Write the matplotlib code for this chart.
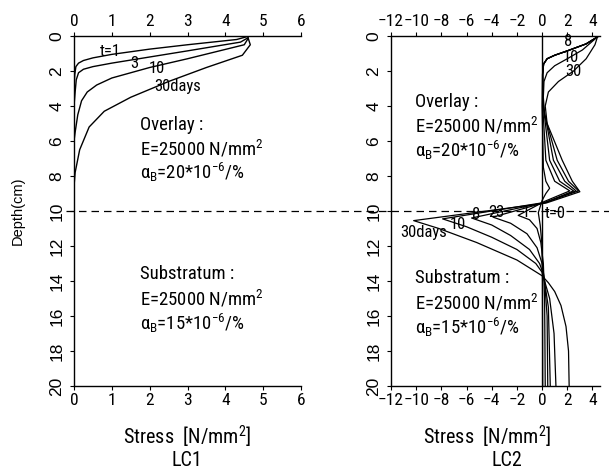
import numpy as np
import matplotlib
matplotlib.use('Agg')
import matplotlib.pyplot as plt
from matplotlib.lines import Line2D

plt.rcParams['font.family'] = ['Roboto Condensed', 'DejaVu Sans']
plt.rcParams['mathtext.fontset'] = 'custom'
plt.rcParams['mathtext.rm'] = 'Roboto Condensed'
plt.rcParams['mathtext.it'] = 'Roboto Condensed'
plt.rcParams['mathtext.bf'] = 'Roboto Condensed'

# LC1: stress (N/mm2) vs depth (cm)
lc1_labels = ['t=1', '3', '10', '30days']
lc1_stress = [
    [4.55, 4.3, 3.0, 2.0, 1.0, 0.5, 0.25, 0.12, 0.05, 0.02, 0.0],
    [4.6, 4.4, 3.0, 2.0, 1.0, 0.5, 0.25, 0.12, 0.06, 0.03, 0.0],
    [4.6, 4.5, 3.0, 2.0, 1.0, 0.6, 0.35, 0.2, 0.1, 0.03, 0.0],
    [4.6, 4.66, 4.45, 3.5, 2.5, 1.5, 0.8, 0.4, 0.15, 0.03, 0.0],
]
lc1_depth = [
    [0.05, 0.2, 0.5, 0.75, 1.05, 1.25, 1.4, 1.55, 1.75, 2.2, 3.0],
    [0.1, 0.35, 0.85, 1.2, 1.55, 1.75, 1.9, 2.1, 2.5, 3.2, 4.0],
    [0.15, 0.5, 1.3, 1.8, 2.4, 2.8, 3.2, 3.7, 4.5, 5.5, 6.0],
    [0.1, 0.5, 1.1, 1.8, 2.6, 3.5, 4.3, 5.2, 6.5, 7.8, 8.6],
]
lc1_label_pos = [(0.95, 0.9), (1.6, 1.55), (2.2, 1.85), (2.75, 2.9)]

# LC2
lc2_labels = ['t=0', '1', '23', '8', '10', '30days']
lc2_stress = [
    [4.4, 3.5, 2.0, 1.0, 0.4, 0.12, 0.03, 0.0, 0.1, 0.3, 0.6, 0.3, 0.0, -0.3, -0.15, 0.0, 0.03, 0.05],
    [4.4, 3.5, 2.0, 1.0, 0.4, 0.12, 0.05, 0.05, 0.3, 1.0, 2.2, 0.2, -1.9, -1.0, -0.4, -0.1, 0.1, 0.2, 0.25],
    [4.4, 3.5, 2.0, 1.0, 0.4, 0.12, 0.05, 0.1, 0.6, 1.4, 2.5, 0.3, -3.9, -2.5, -1.2, -0.4, 0.0, 0.2, 0.4, 0.45],
    [4.4, 3.5, 2.0, 1.0, 0.4, 0.12, 0.05, 0.1, 0.9, 1.8, 2.7, 0.3, -5.6, -4.0, -2.5, -1.0, -0.2, 0.1, 0.5, 0.65],
    [4.4, 3.2, 2.0, 1.0, 0.4, 0.15, 0.1, 0.2, 1.2, 2.1, 2.9, 0.3, -7.9, -6.0, -4.0, -2.0, -0.5, 0.0, 0.6, 0.95, 1.1],
    [4.4, 4.2, 3.5, 2.5, 1.3, 0.5, 0.25, 0.4, 1.6, 2.4, 3.0, 0.3, -10.2, -8.2, -5.2, -2.0, 0.0,
     0.5, 1.0, 1.5, 1.9, 2.1, 2.15],
]
lc2_depth = [
    [0.05, 0.45, 0.85, 1.1, 1.3, 1.6, 2.2, 4.0, 7.5, 8.3, 8.7, 9.0, 9.4, 10.1, 10.8, 12.0, 14.0, 20.0],
    [0.05, 0.45, 0.85, 1.1, 1.3, 1.6, 2.2, 4.0, 7.1, 8.3, 8.85, 9.45, 10.25, 10.5, 11.0, 11.8, 13.0, 15.0, 20.0],
    [0.05, 0.45, 0.85, 1.1, 1.3, 1.6, 2.2, 4.0, 7.1, 8.3, 8.85, 9.5, 10.35, 10.7, 11.3, 12.1, 13.0, 14.0, 16.0, 20.0],
    [0.05, 0.45, 0.85, 1.1, 1.3, 1.6, 2.2, 4.0, 7.1, 8.3, 8.85, 9.5, 10.4, 10.8, 11.4, 12.2, 13.0, 13.6, 15.5, 20.0],
    [0.05, 0.8, 1.3, 1.7, 2.1, 2.6, 3.5, 4.5, 7.1, 8.3, 8.85, 9.5, 10.45, 10.9, 11.5, 12.2, 13.0, 13.5, 15.0, 17.0, 20.0],
    [0.05, 0.5, 1.3, 2.0, 2.6, 3.2, 4.0, 5.0, 7.1, 8.3, 8.9, 9.55, 10.55, 11.0, 11.8, 12.8, 13.7,
     14.1, 14.6, 15.4, 16.6, 18.0, 20.0],
]
lc2_label_pos = [(0.25, 10.15), (-1.3, 10.1), (-3.6, 10.1), (-5.2, 10.2), (-6.7, 10.75), (-9.4, 11.25)]
lc2_label_ha = ['left', 'center', 'center', 'center', 'center', 'center']
lc2_top_labels = ['8', '10', '30']
lc2_top_pos = [(2.1, 0.3), (2.3, 1.25), (2.5, 2.05)]

props_over = ['Overlay :', 'E=25000 N/mm$^2$', r'$\alpha_B$=20*10$^{-6}$/%']
props_sub = ['Substratum :', 'E=25000 N/mm$^2$', r'$\alpha_B$=15*10$^{-6}$/%']

lc1_xticks = [0, 1, 2, 3, 4, 5, 6]
lc2_xticks = [-12, -10, -8, -6, -4, -2, 0, 2, 4]
depth_ticks = [0, 2, 4, 6, 8, 10, 12, 14, 16, 18, 20]

fig = plt.figure(figsize=(6.09, 4.69), dpi=100)
W, H = 609, 469

def px_axes(x0, x1, y0, y1):
    return fig.add_axes([x0 / W, 1 - y1 / H, (x1 - x0) / W, (y1 - y0) / H])

def style(ax, xticks, xlim):
    ax.set_xlim(*xlim)
    ax.set_ylim(20, 0)
    ax.set_xticks(xticks)
    ax.set_xticklabels([str(t).replace('-', '\u2212') for t in xticks])
    ax.set_yticks(depth_ticks)
    ax.set_yticklabels([str(t) for t in depth_ticks], rotation=90, va='center',
                       family=['Liberation Sans', 'DejaVu Sans'], fontsize=10.5)
    ax.tick_params(top=True, labeltop=True, bottom=True, labelbottom=True,
                   direction='out', length=3, width=0.8, labelsize=12.5, pad=2)
    ax.tick_params(axis='y', pad=4)
    ax.spines['right'].set_visible(False)
    for s in ['top', 'bottom', 'left']:
        ax.spines[s].set_linewidth(1.0)

ax1 = px_axes(74, 301, 36, 386)
style(ax1, lc1_xticks, (0, 6))
for xs, ds in zip(lc1_stress, lc1_depth):
    ax1.plot(xs, ds, color='black', lw=1.0)
for lab, (x, d) in zip(lc1_labels, lc1_label_pos):
    ax1.text(x, d, lab, fontsize=12, ha='center', va='center')
for i, t in enumerate(props_over):
    ax1.text(1.75, 5.1 + i * 1.35, t, fontsize=13.5, va='center')
for i, t in enumerate(props_sub):
    ax1.text(1.75, 13.6 + i * 1.4, t, fontsize=13.5, va='center')

ax2 = px_axes(391, 600, 36, 386)
style(ax2, lc2_xticks, (-12, 4.6))
ax2.axvline(0, color='black', lw=1.0)
for xs, ds in zip(lc2_stress, lc2_depth):
    ax2.plot(xs, ds, color='black', lw=0.9)
for lab, (x, d), ha in zip(lc2_labels, lc2_label_pos, lc2_label_ha):
    ax2.text(x, d, lab, fontsize=12, ha=ha, va='center')
for lab, (x, d) in zip(lc2_top_labels, lc2_top_pos):
    ax2.text(x, d, lab, fontsize=12, ha='center', va='center')
for i, t in enumerate(props_over):
    ax2.text(-10.1, 3.75 + i * 1.4, t, fontsize=13.5, va='center')
for i, t in enumerate(props_sub):
    ax2.text(-10.1, 13.85 + i * 1.4, t, fontsize=13.5, va='center')

# dashed interface line across both panels
fig.add_artist(Line2D([66 / W, 1.0], [1 - 211 / H, 1 - 211 / H], color='black',
                      lw=0.9, ls=(0, (6, 4))))

fig.text(18 / W, 1 - 211 / H, 'Depth(cm)', rotation=90, ha='center', va='center',
         fontsize=10.5, family=['Liberation Sans', 'DejaVu Sans'])
fig.text(187 / W, 1 - 437 / H, 'Stress  [N/mm$^2$]', ha='center', va='center', fontsize=14.5)
fig.text(187 / W, 1 - 460 / H, 'LC1', ha='center', va='center', fontsize=14.5)
fig.text(487 / W, 1 - 437 / H, 'Stress  [N/mm$^2$]', ha='center', va='center', fontsize=14.5)
fig.text(507 / W, 1 - 460 / H, 'LC2', ha='center', va='center', fontsize=14.5)

fig.savefig('out.png', dpi=100)
